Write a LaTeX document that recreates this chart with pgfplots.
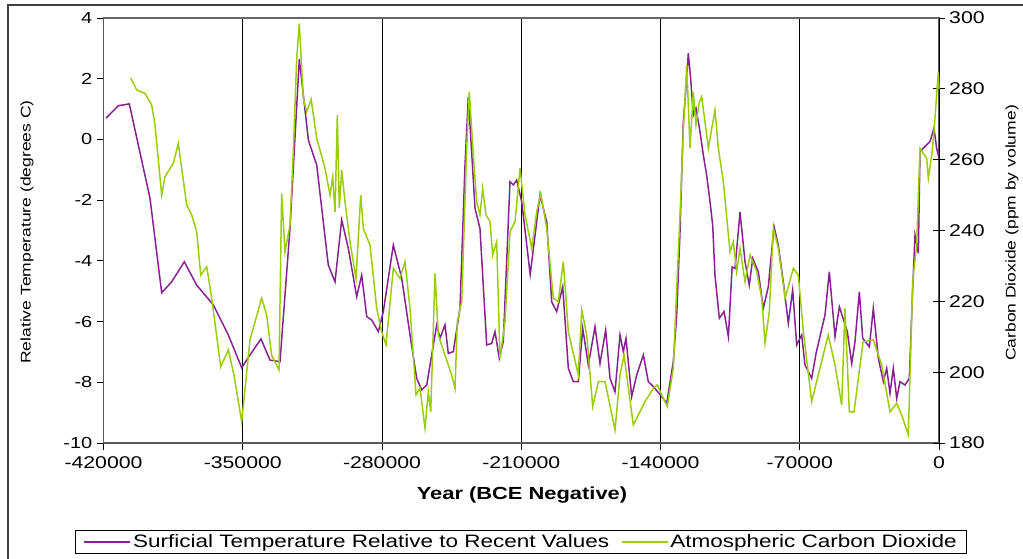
\documentclass[border=0pt]{standalone}
\usepackage{fontspec}
\setmainfont{Liberation Sans}[FakeStretch=1.25]
\usepackage{pgfplots}
\pgfplotsset{compat=1.18}
\usepackage{pgfplotstable}

\definecolor{tempcol}{RGB}{135,35,145}
\definecolor{co2col}{RGB}{155,205,10}

% Vostok ice core: temperature relative to recent values (deg C)
\pgfplotstableread{
year temp
-418700 0.70
-412560 1.11
-407030 1.17
-396620 -1.94
-390750 -5.05
-385720 -4.69
-379380 -4.03
-373150 -4.80
-364800 -5.45
-357260 -6.44
-350530 -7.52
-346360 -7.10
-340830 -6.57
-336300 -7.27
-331270 -7.32
-326250 -2.93
-321570 2.65
-317000 -0.02
-314530 -0.51
-312820 -0.84
-306990 -4.14
-303620 -4.69
-300260 -2.65
-296930 -3.59
-292710 -5.18
-290200 -4.47
-287680 -5.84
-285170 -5.95
-281850 -6.33
-279340 -5.67
-274310 -3.48
-270090 -4.57
-265920 -6.44
-262550 -7.87
-260040 -8.25
-257520 -8.09
-252500 -6.11
-250840 -6.55
-248330 -6.11
-246670 -7.05
-244160 -6.99
-240790 -5.56
-238270 -0.84
-236610 1.40
-233240 -2.27
-230750 -2.93
-227370 -6.77
-224860 -6.72
-223200 -6.33
-221030 -7.21
-219030 -6.66
-215650 -1.39
-214000 -1.50
-212290 -1.34
-209780 -2.05
-205500 -4.45
-200570 -1.83
-197200 -2.71
-194690 -5.35
-192180 -5.67
-189160 -4.85
-186330 -7.54
-183830 -7.98
-181310 -7.98
-179100 -6.22
-176290 -7.43
-172920 -6.17
-170410 -7.38
-167550 -6.28
-165380 -7.87
-162870 -8.31
-160350 -6.44
-158690 -6.99
-157340 -6.55
-154480 -8.47
-151970 -7.76
-148630 -7.10
-146130 -7.98
-143610 -8.14
-139400 -8.47
-136880 -8.69
-133560 -7.32
-131850 -5.78
-130190 -3.04
-128540 0.58
-127190 1.68
-126030 2.84
-124840 2.01
-123510 0.80
-122160 1.03
-120150 0.26
-118480 -0.51
-116810 -1.17
-115110 -2.05
-113770 -2.82
-112630 -4.47
-110420 -5.89
-108060 -5.67
-105870 -6.50
-104000 -4.20
-102550 -4.25
-100030 -2.40
-97510 -4.03
-95370 -4.80
-93640 -3.92
-90830 -4.36
-88320 -5.56
-85800 -4.85
-82930 -2.87
-80780 -3.48
-78270 -4.69
-75750 -6.06
-73560 -4.96
-71540 -6.77
-69030 -6.44
-67360 -7.43
-64000 -7.87
-61820 -7.05
-57300 -5.78
-55140 -4.36
-52270 -6.50
-50100 -5.51
-46080 -6.33
-43870 -7.38
-42220 -6.66
-40040 -5.02
-38360 -6.55
-35010 -6.83
-33020 -5.56
-30500 -7.21
-27980 -7.98
-26290 -7.54
-24630 -8.36
-22970 -7.54
-21260 -8.53
-19600 -7.98
-17090 -8.09
-14920 -7.87
-13230 -4.90
-12050 -3.15
-10390 -3.75
-9550 -0.40
-7900 -0.29
-4520 -0.07
-2520 0.37
-1190 -0.29
0 -0.62
}\temptable

% atmospheric CO2 (ppm by volume)
\pgfplotstableread{
year co2
-406330 283.1
-403310 279.7
-399140 278.7
-395770 275.4
-394110 269.8
-390750 250.0
-389080 255.2
-384910 259.0
-382400 264.6
-378180 247.2
-375660 244.4
-373150 239.7
-371140 227.4
-368120 229.8
-365610 220.9
-361090 201.5
-357260 206.3
-354400 199.2
-350530 186.0
-346360 209.1
-340490 220.9
-337970 216.1
-335460 204.8
-331780 200.6
-330440 250.5
-328770 234.0
-326250 241.6
-324590 262.2
-322880 288.6
-321570 298.5
-319560 277.3
-317860 273.5
-315600 277.0
-312820 266.0
-308650 257.6
-306140 250.0
-304780 255.2
-303620 245.3
-302460 272.6
-301460 246.3
-300260 257.1
-298600 248.1
-296090 236.8
-293070 226.5
-290700 250.0
-289390 240.6
-286030 235.9
-282660 218.0
-280150 211.4
-277990 207.7
-274310 229.3
-270950 226.5
-268440 231.2
-265920 218.0
-262910 193.6
-260900 195.4
-258380 184.2
-256720 194.5
-255510 188.8
-253350 227.9
-251690 210.5
-249480 206.7
-247470 203.4
-244960 199.2
-243300 195.4
-242140 214.3
-239930 219.9
-237420 263.2
-236110 279.2
-234100 261.3
-232390 248.1
-230750 244.4
-229390 251.9
-227720 244.4
-225710 242.5
-224360 233.1
-222350 236.8
-220680 203.9
-218170 214.3
-215650 239.7
-213140 242.5
-210620 257.6
-208110 244.4
-204750 235.0
-202230 245.3
-200220 250.5
-197200 240.6
-193880 220.9
-191370 219.9
-188850 231.2
-186330 211.4
-181310 199.2
-179590 217.6
-177090 210.5
-174070 190.3
-171230 197.3
-167880 197.3
-162870 183.7
-160350 199.2
-158340 204.8
-153670 185.1
-147780 191.7
-143610 195.4
-141590 196.4
-139400 193.6
-136580 190.3
-133560 201.1
-131850 223.7
-130190 244.4
-128540 267.9
-126820 286.7
-125160 263.2
-123510 279.2
-122160 269.8
-120650 275.9
-119310 277.8
-117650 270.7
-115940 263.2
-112630 274.0
-110920 263.2
-108430 253.8
-105050 234.0
-103400 236.8
-101710 228.4
-100030 235.0
-97510 225.5
-95000 233.1
-91640 228.4
-89120 220.9
-87470 208.2
-85300 217.1
-83290 240.6
-80780 235.0
-77380 220.9
-73240 229.3
-70720 227.4
-68190 211.4
-64000 191.7
-59860 201.1
-55700 210.5
-52270 202.0
-48910 190.7
-47270 218.0
-45080 188.8
-42720 188.8
-38150 208.6
-33020 209.1
-28820 202.0
-24630 188.8
-21260 191.2
-18750 187.9
-15440 182.3
-13230 225.5
-11220 235.9
-9550 263.2
-6200 260.4
-5360 254.7
-3650 261.3
-2520 267.9
-350 284.8
0 280.0
}\cotable

\pgfplotsset{
  base/.style={
    at={(103.5pt,115pt)}, anchor=south west,
    scale only axis, width=835.5pt, height=425pt,
    xmin=-420000, xmax=0,
    clip=false,
  },
}

\begin{document}
\begin{tikzpicture}[x=1pt,y=1pt]
\useasboundingbox (0,0) rectangle (1023,558);
\draw[black!75, line width=1.3pt] (8,553) rectangle (1060,-20);

\begin{axis}[base,
  ymin=-10, ymax=4,
  scaled x ticks=false, scaled y ticks=false,
  xtick={-420000,-350000,-280000,-210000,-140000,-70000,0},
  xticklabels={-420000,-350000,-280000,-210000,-140000,-70000,0},
  ytick={-10,-8,-6,-4,-2,0,2,4},
  yticklabels={-10,-8,-6,-4,-2,0,2,4},
  xtick pos=bottom, ytick pos=left,
  tick align=outside, major tick length=7pt,
  xmajorgrids, major grid style={black, line width=0.9pt},
  axis line style={black!65, line width=1.1pt},
  tick style={black, line width=0.9pt},
  xticklabel style={font=\fontsize{17}{20}\selectfont, inner sep=0pt, yshift=-6pt},
  yticklabel style={font=\fontsize{16}{19}\selectfont, inner sep=0pt, xshift=-4pt},
]
\addplot[tempcol, line width=1.5pt] table[x=year, y=temp] {\temptable};
\end{axis}

\begin{axis}[base,
  ymin=180, ymax=300,
  scaled y ticks=false,
  axis x line=none, axis y line*=right,
  ytick={180,200,220,240,260,280,300},
  yticklabels={180,200,220,240,260,280,300},
  tick align=center, major tick length=12pt,
  axis line style={black, line width=1pt},
  tick style={black, line width=0.9pt},
  yticklabel style={font=\fontsize{17}{20}\selectfont, inner sep=0pt, xshift=4pt},
  legend columns=2,
  legend style={at={(0.5,-0.233)}, anchor=center, draw=black, line width=0.9pt,
    font=\fontsize{18}{21}\selectfont, inner xsep=8pt, inner ysep=2.5pt,
    /tikz/every even column/.append style={column sep=10pt}},
  legend image code/.code={\draw[#1, line width=1.2pt] (0pt,0pt) -- (46pt,0pt);},
]
\addlegendimage{tempcol}
\addlegendentry{Surficial Temperature Relative to Recent Values}
\addplot[co2col, line width=1.5pt] table[x=year, y=co2] {\cotable};
\addlegendentry{Atmospheric Carbon Dioxide}
\end{axis}

% top edge of the plot area
\draw[black!60, line width=1.1pt] (103.5,540) -- (939,540);

\node[font=\bfseries\fontsize{17.5}{20}\selectfont] at (522,63) {Year (BCE Negative)};
\node[rotate=90, font=\fontsize{14}{17}\selectfont] at (27,326) {Relative Temperature (degrees C)};
\node[rotate=90, font=\fontsize{14}{17}\selectfont] at (1012,325) {Carbon Dioxide (ppm by volume)};
\end{tikzpicture}
\end{document}
